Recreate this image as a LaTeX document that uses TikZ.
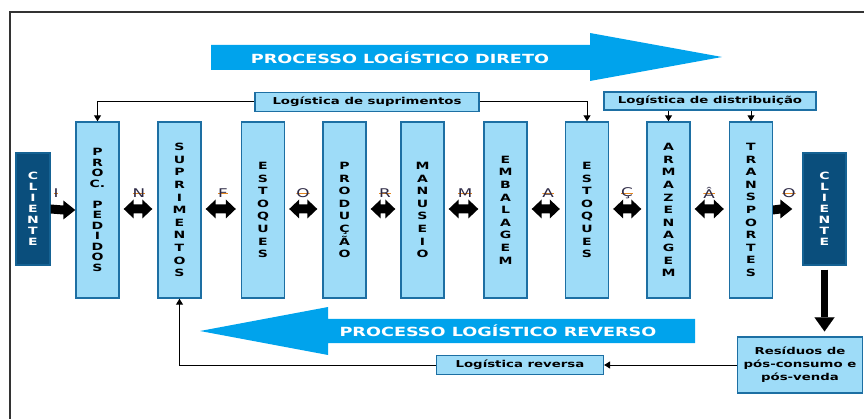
\documentclass[tikz,border=0pt]{standalone}
\usepackage{fontspec}
\newfontfamily\widefont[FakeStretch=1.4]{DejaVu Sans}
\usetikzlibrary{arrows.meta,calc,positioning}

\definecolor{caixa}{HTML}{9EDCF8}
\definecolor{borda}{HTML}{1D6FA3}
\definecolor{cliente}{HTML}{0A4E7C}
\definecolor{faixa}{HTML}{00A3EC}
\definecolor{letra}{HTML}{2E2A45}
\definecolor{risco}{HTML}{E5861E}

\tikzset{
  etapa/.style={draw=borda, line width=1.4pt, fill=caixa, minimum width=43pt,
    minimum height=176pt, inner sep=0pt, align=center,
    font=\widefont\bfseries\fontsize{10}{12.6}\selectfont},
  cli/.style={etapa, fill=cliente, draw=borda!60!cliente, text=white,
    minimum height=112pt, font=\widefont\bfseries\fontsize{10}{11}\selectfont},
  rotulo/.style={draw=borda, line width=1.2pt, fill=caixa, inner sep=0pt,
    minimum height=19pt, align=center,
    font=\widefont\bfseries\fontsize{9.5}{13}\selectfont},
  desce/.style={line width=7pt,
    arrows={-Triangle[width=20pt,length=14pt,line width=0.1pt]}},
  liga/.style={line width=1pt, arrows={-Triangle[width=7pt,length=6pt]}},
  letra/.style={text=letra, inner sep=0pt, font=\widefont\fontsize{12}{12}\selectfont,
    path picture={\draw[risco, line width=0.6pt] (path picture bounding box.west) -- (path picture bounding box.east);}},
  faixatxt/.style={text=white, font=\widefont\bfseries\fontsize{12.6}{12.6}\selectfont}
}

% setas cheias do fluxo de informacao
\newcommand\setadupla[2]{%
  \fill (#1) -- ++(10,-9.5) -- ++(0,5) -- ($(#2)+(-10,-4.5)$) -- ++(0,-5) -- (#2)
    -- ++(-10,9.5) -- ++(0,-5) -- ($(#1)+(10,4.5)$) -- ++(0,5) -- cycle;}
\newcommand\setaum[2]{%
  \fill (#1) -- ++(0,-4.5) -- ($(#2)+(-12,-4.5)$) -- ++(0,-5) -- (#2)
    -- ++(-12,9.5) -- ++(0,-5) -- ($(#1)+(0,4.5)$) -- cycle;}

\begin{document}
\begin{tikzpicture}[x=1pt,y=-1pt]
\useasboundingbox (0,0) rectangle (864,419);

% moldura
\draw[line width=1.5pt, black!80] (10,419) -- (10,12) -- (864,12);

% faixas dos processos
\fill[faixa] (211,45) -- (590,45) -- (590,33) -- (722,57) -- (590,81) -- (590,70) -- (211,70) -- cycle;
\node[faixatxt] (tdir) at (400,58) {PROCESSO LOGÍSTICO DIRETO};
\fill[faixa] (695,319) -- (328,319) -- (328,307) -- (200,331) -- (328,355) -- (328,343) -- (695,343) -- cycle;
\node[faixatxt] (trev) at (498,331) {PROCESSO LOGÍSTICO REVERSO};

% etapas
\node[cli, minimum width=34pt] (cli1) at (33,209) {C\\L\\I\\E\\N\\T\\E};
\node[etapa, font=\widefont\bfseries\fontsize{10}{10.5}\selectfont] (proc) at (97.5,210)
  {P\\R\\O\\C.\\[10.5pt]P\\E\\D\\I\\D\\O\\S};
\foreach \nome/\x/\txt in {supr/179.5/{S\\U\\P\\R\\I\\M\\E\\N\\T\\O\\S},
    est1/263/{E\\S\\T\\O\\Q\\U\\E\\S},
    prod/344.5/{P\\R\\O\\D\\U\\Ç\\Ã\\O},
    man/422.5/{M\\A\\N\\U\\S\\E\\I\\O},
    emb/505.5/{E\\M\\B\\A\\L\\A\\G\\E\\M},
    est2/587/{E\\S\\T\\O\\Q\\U\\E\\S},
    arm/668.5/{A\\R\\M\\A\\Z\\E\\N\\A\\G\\E\\M},
    trans/751/{T\\R\\A\\N\\S\\P\\O\\R\\T\\E\\S}}
  \node[etapa] (\nome) at (\x,210) {\txt};
\node[cli] (cli2) at (824.5,209) {C\\L\\I\\E\\N\\T\\E};

% fluxo de informacao
\setaum{$(cli1.east)+(0,0)$}{$(proc.west)+(0,0)$}
\foreach \a/\b in {proc/supr, supr/est1, est1/prod, prod/man, man/emb, emb/est2, est2/arm, arm/trans}
  \setadupla{$(\a.east)+(4,-1)$}{$(\b.west)+(-5,-1)$};
\setaum{$(trans.east)+(0,0)$}{$(cli2.west)+(-10,0)$}
\foreach \x/\l [count=\i] in {56/I, 139/N, 223/F, 303/O, 385/R, 465/M, 548/A, 627/Ç, 709/Â, 789/O}
  \node[letra] (let\i) at (\x,193) {\l};

% logisticas
\node[rotulo, minimum width=224pt] (lsup) at (367,102) {Logística de suprimentos};
\node[rotulo, minimum width=212pt, minimum height=18pt] (ldist) at (710,101) {Logística de distribuição};
\draw[liga] (lsup.west) -| (proc.north);
\draw[liga] (lsup.east) -| (est2.north);
\draw[liga] (ldist.south -| arm.north) -- (arm.north);
\draw[liga] (ldist.south -| trans.north) -- (trans.north);

% retorno
\node[rotulo, minimum width=125pt, minimum height=56pt] (resid) at (800,365) {Resíduos de\\pós-consumo e\\pós-venda};
\node[rotulo, minimum width=167pt] (lrev) at (520,365) {Logística reversa};
\draw[desce, shorten <=4pt, shorten >=5pt] (cli2.south) -- (cli2.south |- resid.north);
\draw[liga] (resid.west) -- (lrev.east);
\draw[liga] (lrev.west) -| (supr.south);

\end{tikzpicture}
\end{document}
